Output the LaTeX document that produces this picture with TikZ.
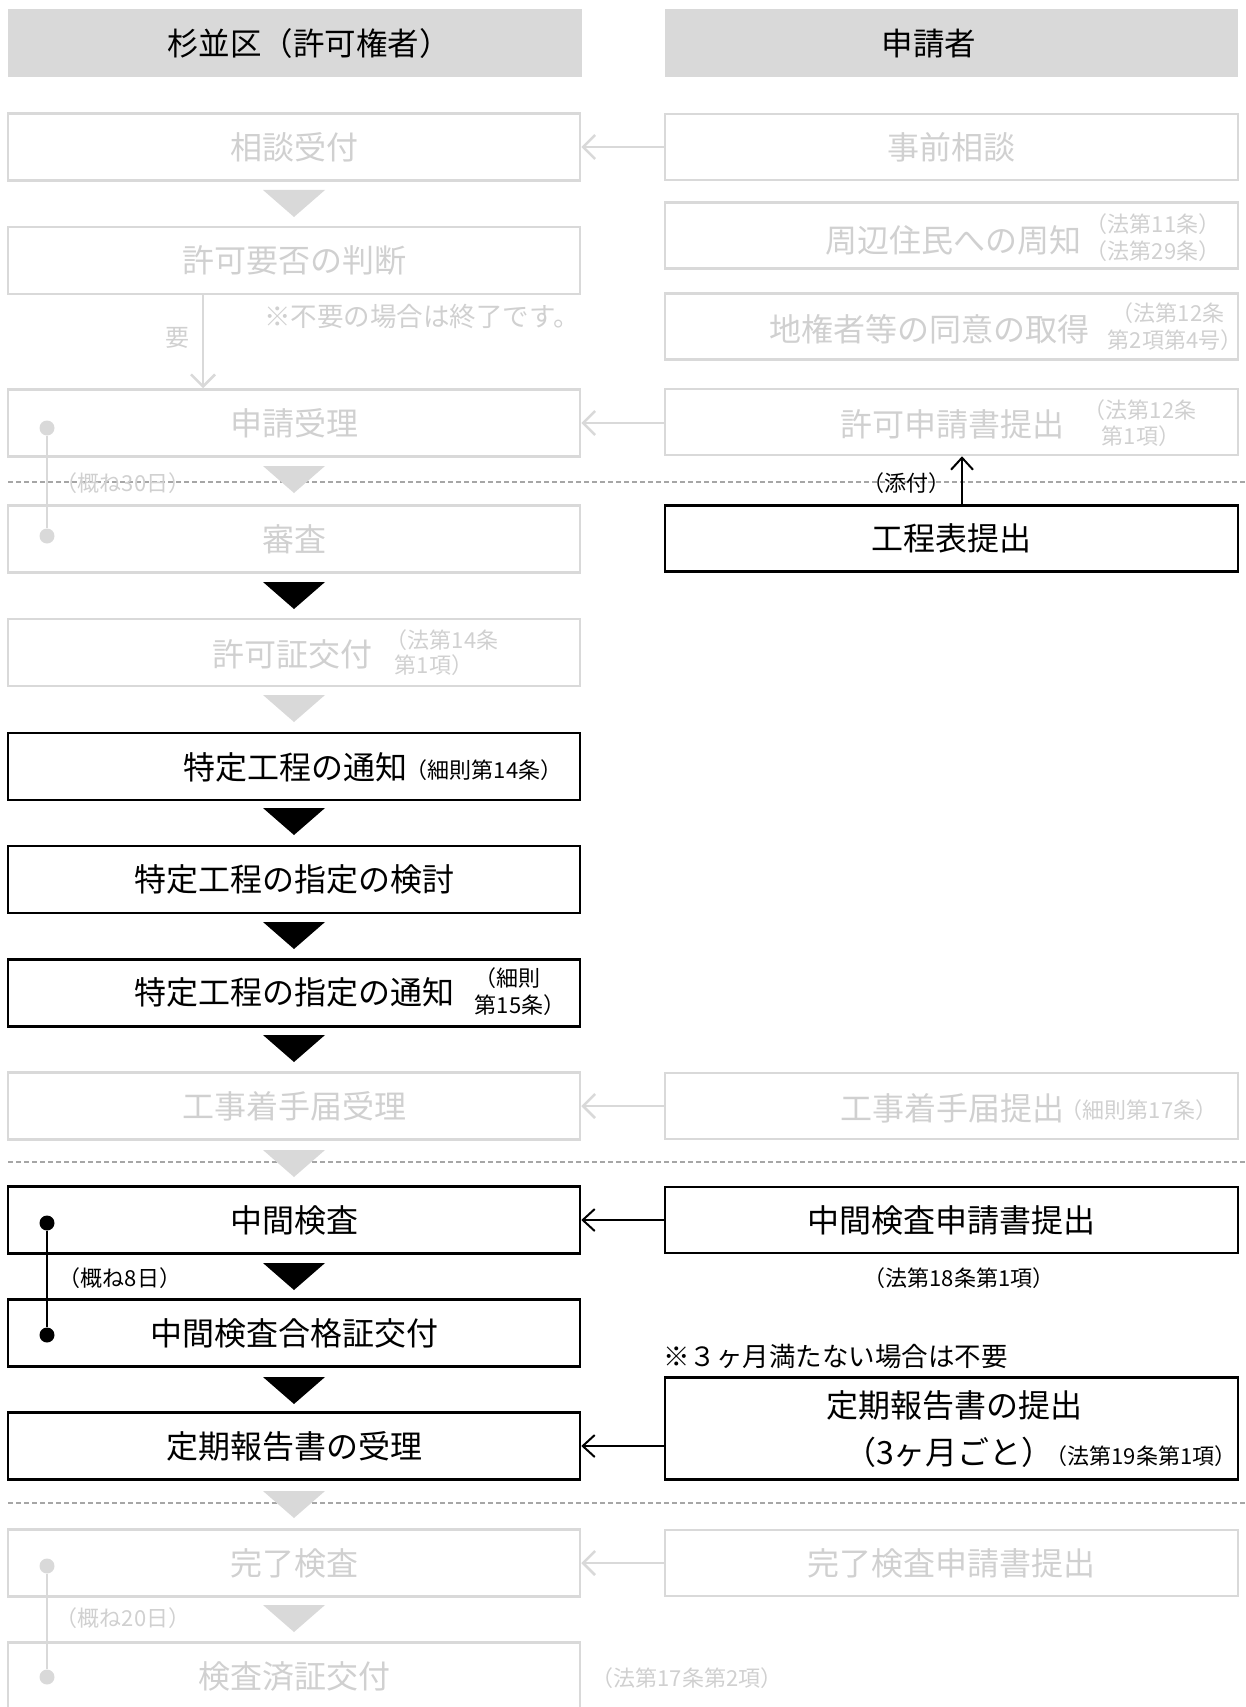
\documentclass[tikz,border=0pt]{standalone}
\usepackage{fontspec}
\setmainfont{Noto Sans CJK JP}
\usetikzlibrary{arrows.meta,calc}
\definecolor{gline}{HTML}{D9D9D9}
\definecolor{gtext}{HTML}{D0D0D0}
\definecolor{hdr}{HTML}{D9D9D9}
\definecolor{dashgray}{HTML}{A6A6A6}
\begin{document}
\begin{tikzpicture}[x=1pt,y=-1pt,
  big/.style={font=\fontsize{32}{36}\selectfont},
  hdrfont/.style={font=\fontsize{31.5}{36}\selectfont},
  sml/.style={font=\fontsize{22}{25}\selectfont},
  mid/.style={font=\fontsize{26.5}{30}\selectfont},
  lbox/.style={minimum width=572pt,minimum height=67pt,inner sep=0pt},
  rbox/.style={minimum width=573pt,minimum height=66pt,inner sep=0pt},
  gbox/.style={draw=gline,line width=2.5pt,text=gtext},
  bbox/.style={draw=black,line width=2.5pt},
  gtxt/.style={text=gtext,inner sep=0pt},
  btxt/.style={text=black,inner sep=0pt},
  hdrbox/.style={fill=hdr,minimum height=68pt,inner sep=0pt},
  garrow/.style={draw=gline,line width=2.5pt,-{Straight Barb[length=12pt,width=24pt]}},
  barrow/.style={draw=black,line width=2pt,-{Straight Barb[length=12pt,width=22pt]}},
  sepline/.style={draw=dashgray,line width=1.3pt,dash pattern=on 5pt off 3pt},
  gtri/.style={fill=gline},
  btri/.style={fill=black},
  gdot/.style={circle,fill=gline,minimum size=15pt,inner sep=0pt},
  bdot/.style={circle,fill=black,minimum size=15pt,inner sep=0pt},
]
\useasboundingbox (0,0) rectangle (1246,1707);

% separators
\draw[sepline] (8,482) -- (1246,482);
\draw[sepline] (8,1162) -- (1246,1162);
\draw[sepline] (8,1503) -- (1246,1503);

% headers
\node[hdrbox,minimum width=574pt] (h1) at (295,43) {};
\node[btxt,hdrfont] (h1t) at (309,44) {杉並区（許可権者）};
\node[hdrbox,minimum width=573pt] (h2) at (951.5,43) {};
\node[btxt,hdrfont] (h2t) at (929,44) {申請者};

% left column
\node[lbox,gbox,big] (l1) at (294,147) {相談受付};
\node[lbox,gbox,big] (l2) at (294,260.5) {許可要否の判断};
\node[lbox,gbox,big] (l3) at (294,423) {申請受理};
\node[lbox,gbox,big] (l4) at (294,539) {審査};
\node[lbox,gbox] (l5) at (294,652.5) {};
\node[gtxt,big] (t5) at (292,654) {許可証交付};
\node[gtxt,sml] (t5a) at (442,640) {（法第14条};
\node[gtxt,sml] (t5b) at (434,665) {第1項）};
\node[lbox,bbox] (l6) at (294,766.5) {};
\node[btxt,big] (t6) at (295,767) {特定工程の通知};
\node[btxt,sml] (t6a) at (484,770) {（細則第14条）};
\node[lbox,bbox,big] (l7) at (294,879.5) {特定工程の指定の検討};
\node[lbox,bbox] (l8) at (294,993) {};
\node[btxt,big] (t8) at (294,992) {特定工程の指定の通知};
\node[btxt,sml] (t8a) at (507,978) {（細則};
\node[btxt,sml] (t8b) at (520,1005) {第15条）};
\node[lbox,gbox,big] (l9) at (294,1106) {工事着手届受理};
\node[lbox,bbox,big] (l10) at (294,1220) {中間検査};
\node[lbox,bbox,big] (l11) at (294,1333) {中間検査合格証交付};
\node[lbox,bbox,big] (l12) at (294,1446) {定期報告書の受理};
\node[lbox,gbox,big] (l13) at (294,1563) {完了検査};
\node[lbox,gbox,big] (l14) at (294,1676) {検査済証交付};

% right column
\node[rbox,gbox,big] (r1) at (951.5,147) {事前相談};
\node[rbox,gbox] (r2) at (951.5,235.5) {};
\node[gtxt,big] (t2) at (953.5,240) {周辺住民への周知};
\node[gtxt,sml] (t2a) at (1153,224) {（法第11条）};
\node[gtxt,sml] (t2b) at (1153,251) {（法第29条）};
\node[rbox,gbox] (r3) at (951.5,326.5) {};
\node[gtxt,big] (t3) at (929,329) {地権者等の同意の取得};
\node[gtxt,sml] (t3a) at (1168,313) {（法第12条};
\node[gtxt,sml] (t3b) at (1175,340) {第2項第4号）};
\node[rbox,gbox] (r4) at (951.5,422) {};
\node[gtxt,big] (t4) at (952,424) {許可申請書提出};
\node[gtxt,sml] (t4a) at (1140,410) {（法第12条};
\node[gtxt,sml] (t4b) at (1141,436) {第1項）};
\node[rbox,bbox,big] (r5) at (951.5,538.5) {工程表提出};
\node[rbox,gbox] (r9) at (951.5,1106) {};
\node[gtxt,big] (t9) at (952,1108) {工事着手届提出};
\node[gtxt,sml] (t9a) at (1139,1110) {（細則第17条）};
\node[rbox,bbox,big] (r10) at (951.5,1220) {中間検査申請書提出};
\node[rbox,bbox,minimum height=102pt] (r12) at (951.5,1428.5) {};
\node[btxt,big] (t12) at (954,1405) {定期報告書の提出};
\node[btxt,big] (t12a) at (949,1452) {（3ヶ月ごと）};
\node[btxt,sml] (t12b) at (1141,1456) {（法第19条第1項）};
\node[rbox,gbox,big] (r13) at (951.5,1563) {完了検査申請書提出};

% free texts
\node[gtxt,font=\fontsize{24}{28}\selectfont] (yo) at (177,338) {要};
\node[gtxt,mid] (note1) at (422,316) {※不要の場合は終了です。};
\node[gtxt,sml] (d30) at (123,483) {（概ね30日）};
\node[btxt,sml] (tenpu) at (906,483) {（添付）};
\node[btxt,sml] (ref18) at (959,1278) {（法第18条第1項）};
\node[btxt,sml] (d8) at (120,1278) {（概ね8日）};
\node[btxt,mid,anchor=west] (note2) at (663,1356) {※３ヶ月満たない場合は不要};
\node[gtxt,sml] (d20) at (123,1618) {（概ね20日）};
\node[gtxt,sml] (ref17) at (687,1678) {（法第17条第2項）};

% triangles
\fill[gtri] (263,190) -- (325,190) -- (294,217) -- cycle;
\fill[gtri] (263,466) -- (325,466) -- (294,493) -- cycle;
\fill[btri] (263,582) -- (325,582) -- (294,609) -- cycle;
\fill[gtri] (263,695) -- (325,695) -- (294,722) -- cycle;
\fill[btri] (263,808) -- (325,808) -- (294,835) -- cycle;
\fill[btri] (263,922) -- (325,922) -- (294,949) -- cycle;
\fill[btri] (263,1035) -- (325,1035) -- (294,1062) -- cycle;
\fill[gtri] (263,1150) -- (325,1150) -- (294,1177) -- cycle;
\fill[btri] (263,1263) -- (325,1263) -- (294,1290) -- cycle;
\fill[btri] (263,1377) -- (325,1377) -- (294,1404) -- cycle;
\fill[gtri] (263,1491) -- (325,1491) -- (294,1518) -- cycle;
\fill[gtri] (263,1605) -- (325,1605) -- (294,1632) -- cycle;

% horizontal arrows
\draw[garrow] (r1.west) -- (l1.east);
\draw[garrow] (r4.west |- l3.east) -- (l3.east);
\draw[garrow] (r9.west) -- (l9.east);
\draw[barrow] (r10.west) -- (l10.east);
\draw[barrow] (r12.west |- l12.east) -- (l12.east);
\draw[garrow] (r13.west) -- (l13.east);

% vertical arrows
\coordinate (vx) at (203,300);
\draw[garrow] (l2.south -| vx) -- (l3.north -| vx);
\coordinate (tx) at (962,500);
\draw[barrow] (r5.north -| tx) -- (r4.south -| tx);

% timelines
\node[gdot] (a1) at (47,428) {};
\node[gdot] (a2) at (47,536) {};
\draw[draw=gline,line width=2.5pt] (a1) -- (a2);
\node[bdot] (b1) at (47,1223) {};
\node[bdot] (b2) at (47,1335) {};
\draw[draw=black,line width=2pt] (b1) -- (b2);
\node[gdot] (c1) at (47,1566) {};
\node[gdot] (c2) at (47,1677) {};
\draw[draw=gline,line width=2.5pt] (c1) -- (c2);
\end{tikzpicture}
\end{document}
